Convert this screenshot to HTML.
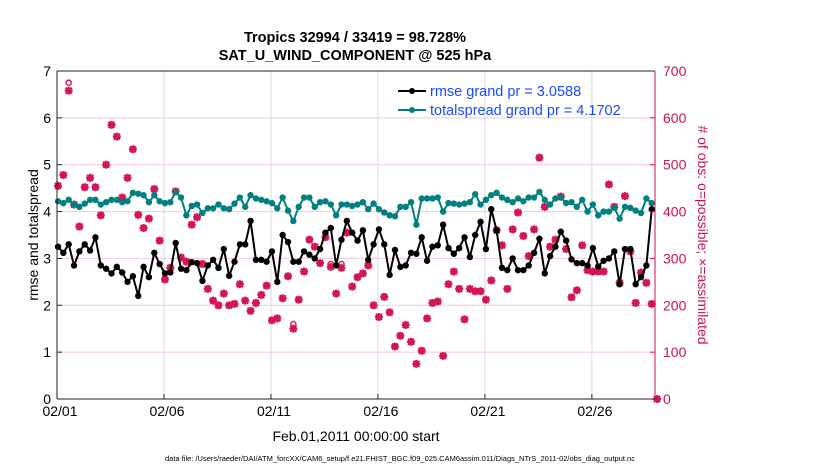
<!DOCTYPE html>
<html><head><meta charset="utf-8"><style>
body{margin:0;background:#fff;font-family:"Liberation Sans",sans-serif}
svg text{font-family:"Liberation Sans",sans-serif}
</style></head><body>
<svg id="c" width="830" height="470" xmlns="http://www.w3.org/2000/svg">
<rect width="830" height="470" fill="#fff"/>
<g id="grid"></g><g id="marks"></g><g id="axes"></g>
<text x="355" y="42" text-anchor="middle" font-size="14.5" font-weight="bold">Tropics 32994 / 33419 = 98.728%</text>
<text x="355" y="60" text-anchor="middle" font-size="14.5" font-weight="bold">SAT_U_WIND_COMPONENT @ 525 hPa</text>
<text transform="translate(38,235) rotate(-90)" text-anchor="middle" font-size="14">rmse and totalspread</text>
<text transform="translate(698,235) rotate(90)" text-anchor="middle" font-size="14" fill="#cc1155"># of obs: o=possible; ×=assimilated</text>
<text x="356" y="441" text-anchor="middle" font-size="14">Feb.01,2011 00:00:00 start</text>
<text x="400" y="461" text-anchor="middle" font-size="7.5">data file: /Users/raeder/DAI/ATM_forcXX/CAM6_setup/f.e21.FHIST_BGC.f09_025.CAM6assim.011/Diags_NTrS_2011-02/obs_diag_output.nc</text>
<g>
<line x1="398" y1="91" x2="426" y2="91" stroke="#000" stroke-width="2"/><circle cx="412" cy="91" r="3" fill="#000"/>
<text x="430" y="96" font-size="14.5" fill="#1a4cff">rmse grand pr = 3.0588</text>
<line x1="398" y1="110" x2="426" y2="110" stroke="#008080" stroke-width="2"/><circle cx="412" cy="110" r="3" fill="#008080"/>
<text x="430" y="115" font-size="14.5" fill="#1a4cff">totalspread grand pr = 4.1702</text>
</g>
</svg>
<script>
const xTicks=[0,5,10,15,20,25];
const xTickLabels=["02/01","02/06","02/11","02/16","02/21","02/26"];
const yTicks=[0,1,2,3,4,5,6,7];
const y2Ticks=[0,100,200,300,400,500,600,700];
const rmse=[3.25,3.12,3.3,2.85,3.15,3.3,3.17,3.45,2.85,2.78,2.68,2.82,2.7,2.5,2.62,2.2,2.82,2.6,3.12,2.88,2.68,2.7,3.33,2.78,2.75,2.92,2.9,2.52,2.85,2.97,2.8,3.2,2.63,2.93,3.3,3.3,3.8,2.97,2.97,2.93,3.15,2.5,3.5,3.35,2.93,2.93,3.15,3.08,3.0,3.2,3.55,3.65,2.85,3.4,3.8,3.55,3.38,
3.6,2.97,3.3,3.62,3.3,2.65,3.18,2.82,2.85,3.12,3.1,3.45,2.95,3.25,3.28,3.72,3.22,3.1,3.22,3.45,3.03,3.5,3.78,3.2,4.05,3.6,2.8,2.75,3.0,2.75,2.75,2.85,3.12,3.42,2.68,3.05,3.25,3.57,3.38,2.98,2.9,2.9,2.85,3.22,2.83,2.95,3.0,3.15,2.45,3.2,3.2,2.45,2.6,2.85,4.05];
const spread=[4.22,4.18,4.25,4.15,4.1,4.17,4.25,4.25,4.15,4.2,4.25,4.25,4.2,4.22,4.4,4.38,4.35,4.2,4.35,4.22,4.18,4.2,4.42,4.3,3.92,4.12,4.15,3.97,4.07,4.07,4.15,4.07,4.05,4.17,4.3,4.1,4.35,4.28,4.25,4.22,4.18,4.07,4.3,4.02,3.8,4.1,4.3,4.3,4.1,4.2,4.22,4.15,3.92,4.15,4.15,4.12,4.15,
4.2,4.05,4.17,4.05,3.98,3.92,3.9,4.1,4.1,4.2,3.72,4.28,4.28,4.28,4.3,4.0,4.18,4.17,4.15,4.17,4.2,4.37,4.15,4.25,4.35,4.4,4.3,4.25,4.2,4.28,4.22,4.3,4.3,4.42,4.25,4.15,4.28,4.3,4.18,4.2,4.1,4.25,4.0,4.15,3.92,4.0,4.0,4.08,3.85,4.1,4.08,4.02,3.97,4.28,4.18];
const obsAssim=[455,478,658,415,368,452,472,452,392,500,585,560,430,472,533,393,365,385,448,338,255,280,443,302,293,372,388,288,235,210,200,225,200,203,245,210,188,205,222,242,168,172,215,262,150,212,272,340,325,290,345,282,225,280,355,240,260,
268,285,200,175,218,185,112,135,158,122,75,103,172,205,208,92,245,272,235,170,235,230,230,212,253,360,328,235,362,398,348,305,362,515,410,325,340,432,320,217,232,328,275,272,272,272,458,410,248,433,315,205,270,248,203,0];
const obsPoss=[455,478,675,415,368,452,472,452,392,500,585,560,430,472,533,393,365,385,448,338,255,280,443,302,293,372,388,288,235,210,200,225,200,203,245,210,188,205,222,242,168,172,215,262,160,212,272,340,325,290,345,288,225,288,355,240,260,
268,285,200,175,218,185,112,135,158,122,75,103,172,205,208,92,245,272,235,170,235,230,230,212,253,360,328,235,362,398,348,305,362,515,410,325,340,432,320,217,232,328,275,272,272,272,458,410,248,433,315,205,270,248,203,0];
const X0=57,X1=655,Y0=399,Y1=71,DAYS=27.95;
const xs=d=>X0+d/DAYS*(X1-X0);
const ys=v=>Y0-v/7*(Y0-Y1);
const y2s=v=>Y0-v/700*(Y0-Y1);
const xi=i=>xs(i*0.25)+1;
const NS="http://www.w3.org/2000/svg";
function mk(p,t,a){const e=document.createElementNS(NS,t);for(const k in a)e.setAttribute(k,a[k]);p.appendChild(e);return e;}
const grid=document.getElementById('grid'),marks=document.getElementById('marks'),axes=document.getElementById('axes');
y2Ticks.forEach(v=>{if(v>0&&v<700){const l=mk(grid,'line',{x1:X0,x2:X1,y1:y2s(v),y2:y2s(v),stroke:'#f3c8d8','stroke-width':1});

}});
xTicks.forEach((d,k)=>{if(k>0){const l=mk(grid,'line',{x1:xs(d),x2:xs(d),y1:Y1,y2:Y0,stroke:'#d8d8d8','stroke-width':1});

}
const t=mk(axes,'text',{x:xs(d)+3,y:Y0+17,'text-anchor':'middle','font-size':14});t.textContent=xTickLabels[k];


mk(axes,'line',{x1:xs(d),x2:xs(d),y1:Y0,y2:Y0-5,stroke:'#222'});});
yTicks.forEach(v=>{const t=mk(axes,'text',{x:X0-6,y:ys(v)+5,'text-anchor':'end','font-size':14});t.textContent=v;


mk(axes,'line',{x1:X0,x2:X0+5,y1:ys(v),y2:ys(v),stroke:'#222'});});
y2Ticks.forEach(v=>{const t=mk(axes,'text',{x:X1+8,y:y2s(v)+5,'font-size':14,fill:'#cc1155'});t.textContent=v;


mk(axes,'line',{x1:X1-5,x2:X1,y1:y2s(v),y2:y2s(v),stroke:'#cc1155'});});
mk(axes,'line',{x1:X0,x2:X0,y1:Y1,y2:Y0,stroke:'#222'});
mk(axes,'line',{x1:X0,x2:X1,y1:Y0,y2:Y0,stroke:'#222'});
mk(axes,'line',{x1:X0,x2:X1,y1:Y1,y2:Y1,stroke:'#222'});
mk(axes,'line',{x1:X1,x2:X1,y1:Y1,y2:Y0,stroke:'#cc1155'});
// obs markers
obsPoss.forEach((v,i)=>{const c=mk(marks,'circle',{cx:xi(i),cy:y2s(v),r:2.6,fill:'none',stroke:'#d4145a','stroke-width':1.4});

});
obsAssim.forEach((v,i)=>{const x=xi(i),y=y2s(v);const g=mk(marks,'g',{stroke:'#d4145a','stroke-width':2.2});


mk(g,'line',{x1:x-4,x2:x+4,y1:y,y2:y});mk(g,'line',{x1:x,x2:x,y1:y-4,y2:y+4});
mk(g,'line',{x1:x-3,x2:x+3,y1:y-3,y2:y+3});mk(g,'line',{x1:x-3,x2:x+3,y1:y+3,y2:y-3});});
function series(arr,col,name){
const p=mk(marks,'polyline',{points:arr.map((v,i)=>xi(i)+','+ys(v)).join(' '),fill:'none',stroke:col,'stroke-width':2});


arr.forEach((v,i)=>{const c=mk(marks,'circle',{cx:xi(i),cy:ys(v),r:3.2,fill:col});

});}
series(spread,'#008080','totalspread');
series(rmse,'#000','rmse');
</script>
</body></html>
